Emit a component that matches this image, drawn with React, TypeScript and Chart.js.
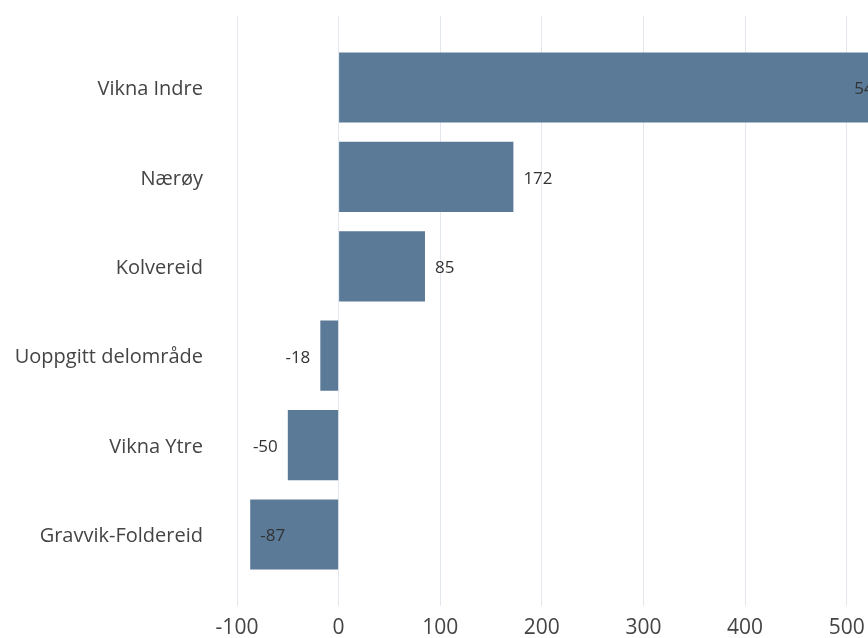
import React, { useEffect, useRef } from 'react';
import { Chart, registerables } from 'chart.js';

Chart.register(...registerables);

const categories = ['Vikna Indre', 'Nærøy', 'Kolvereid', 'Uoppgitt delområde', 'Vikna Ytre', 'Gravvik-Foldereid'];
const values = [546, 172, 85, -18, -50, -87];
const xTickValues = [-100, 0, 100, 200, 300, 400, 500, 600];

const VISIBLE_W = 868;
const CANVAS_W = 1000;
const CANVAS_H = 638;
const FONT = '"Open Sans", "Noto Sans", sans-serif';

const valueLabelPlugin = {
  id: 'valueLabels',
  afterDatasetsDraw(chart: any) {
    const ctx = chart.ctx;
    const meta = chart.getDatasetMeta(0);
    const area = chart.chartArea;
    ctx.save();
    ctx.font = `17px ${FONT}`;
    ctx.fillStyle = '#333333';
    ctx.textBaseline = 'middle';
    const gap = 10;
    meta.data.forEach((bar: any, i: number) => {
      const v = values[i];
      const text = String(v);
      const w = ctx.measureText(text).width;
      const x = bar.x;
      const y = bar.y + 2;
      if (v >= 0) {
        if (x + gap + w <= Math.min(area.right, VISIBLE_W)) {
          ctx.textAlign = 'left';
          ctx.fillText(text, x + gap, y);
        } else {
          ctx.textAlign = 'right';
          ctx.fillText(text, x - gap, y);
        }
      } else {
        if (x - gap - w >= area.left) {
          ctx.textAlign = 'right';
          ctx.fillText(text, x - gap, y);
        } else {
          ctx.textAlign = 'left';
          ctx.fillText(text, x + gap, y);
        }
      }
    });
    ctx.restore();
  },
};

export default function App() {
  const canvasRef = useRef<HTMLCanvasElement | null>(null);

  useEffect(() => {
    if (!canvasRef.current) return;
    const chart = new Chart(canvasRef.current, {
      type: 'bar',
      data: {
        datasets: [
          {
            data: values.map((v, i) => ({ x: v, y: i })),
            backgroundColor: '#5a7a98',
            borderWidth: 0,
            barPercentage: 0.785,
            categoryPercentage: 1,
          },
        ],
      },
      options: {
        indexAxis: 'y',
        animation: false,
        responsive: false,
        maintainAspectRatio: false,
        layout: { padding: { left: 0, right: 51.7, top: 16, bottom: 0 } },
        plugins: {
          legend: { display: false },
          tooltip: { enabled: false },
          title: { display: false },
        },
        scales: {
          x: {
            type: 'linear',
            position: 'bottom',
            min: -100,
            max: 600,
            afterBuildTicks: (scale: any) => {
              scale.ticks = xTickValues.map((v) => ({ value: v }));
            },
            afterFit: (scale: any) => {
              scale.height = 32;
            },
            grid: { color: '#e2e7ee', lineWidth: 1, drawTicks: false },
            border: { display: false },
            ticks: {
              padding: 12,
              color: '#444444',
              font: { family: FONT, size: 21, lineHeight: 1 },
              callback: (v: any) => String(v),
            },
          },
          y: {
            type: 'linear',
            position: 'left',
            reverse: true,
            offset: false,
            min: -0.8,
            max: 5.8,
            afterBuildTicks: (scale: any) => {
              scale.ticks = categories.map((_, i) => ({ value: i }));
            },
            afterFit: (scale: any) => {
              scale.width = 237;
              scale.paddingTop = 0;
              scale.paddingBottom = 0;
            },
            grid: { display: false, drawTicks: false, offset: false },
            border: { display: false },
            ticks: {
              autoSkip: false,
              padding: 34,
              labelOffset: 2,
              color: '#444444',
              font: { family: FONT, size: 20 },
              callback: (v: any) => categories[Number(v)] ?? '',
            },
          },
        },
      },
      plugins: [valueLabelPlugin],
    });
    return () => chart.destroy();
  }, []);

  return (
    <div
      style={{
        position: 'fixed',
        left: 0,
        top: 0,
        width: VISIBLE_W,
        height: CANVAS_H,
        overflow: 'hidden',
        background: '#ffffff',
      }}
    >
      <canvas
        ref={canvasRef}
        width={CANVAS_W}
        height={CANVAS_H}
        style={{ width: CANVAS_W, height: CANVAS_H, display: 'block' }}
      />
    </div>
  );
}
